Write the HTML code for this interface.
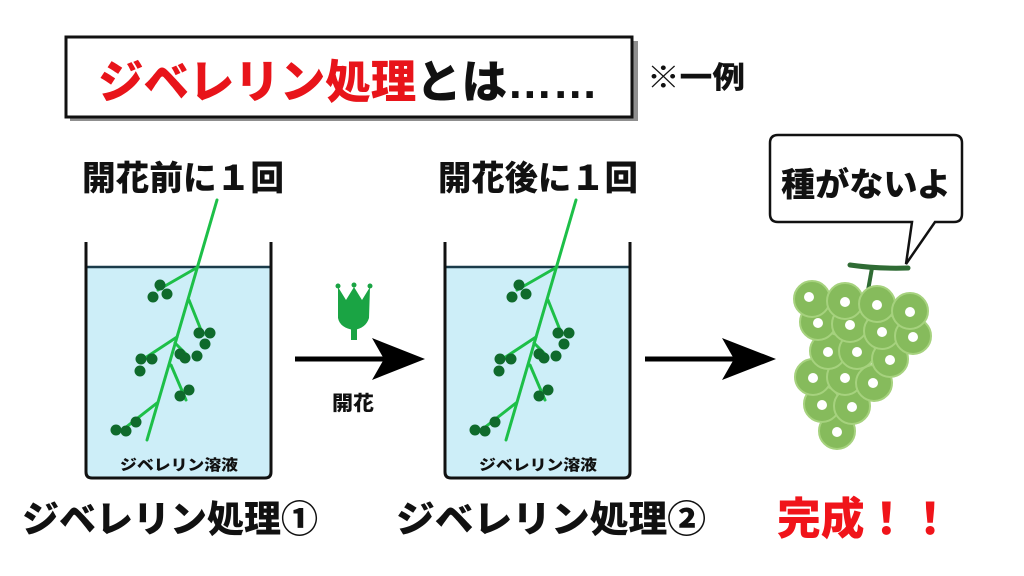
<!DOCTYPE html>
<html><head><meta charset="utf-8"><style>
html,body{margin:0;padding:0;background:#fff;width:1024px;height:576px;overflow:hidden}
text{font-family:"Liberation Sans","Noto Sans CJK JP",sans-serif;font-weight:900}
</style></head><body>
<svg width="1024" height="576" viewBox="0 0 1024 576" xmlns="http://www.w3.org/2000/svg">
<defs>
<g id="plant">
  <g stroke="#1dbf48" stroke-width="3" fill="none" stroke-linecap="round">
    <line x1="217" y1="200" x2="147" y2="440"/>
    <line x1="198" y1="267" x2="158" y2="290"/>
    <line x1="189" y1="300" x2="203" y2="335"/>
    <line x1="177" y1="337" x2="142" y2="360"/>
    <line x1="175" y1="343" x2="188" y2="356"/>
    <line x1="171" y1="365" x2="186" y2="400"/>
    <line x1="157" y1="403" x2="125" y2="428"/>
  </g>
  <g fill="#0f6a2c">
    <circle cx="160" cy="285" r="5.5"/><circle cx="153" cy="297" r="5.5"/><circle cx="167" cy="294" r="5.5"/>
    <circle cx="199" cy="333" r="5.5"/><circle cx="210" cy="333" r="5.5"/><circle cx="205" cy="344" r="5.5"/>
    <circle cx="141" cy="359" r="5.5"/><circle cx="152" cy="359" r="5.5"/><circle cx="140" cy="371" r="5.5"/>
    <circle cx="180" cy="354" r="5.5"/><circle cx="185" cy="358" r="5.5"/><circle cx="197" cy="356" r="5.5"/>
    <circle cx="180" cy="396" r="5.5"/><circle cx="189" cy="390" r="5.5"/>
    <circle cx="126" cy="431" r="5.5"/><circle cx="136" cy="422" r="5.5"/><circle cx="116" cy="430" r="5.5"/>
  </g>
</g>
<g id="beaker">
  <path d="M86 266 H271 V472 Q271 478 265 478 H92 Q86 478 86 472 Z" fill="#cdeef8"/>
  <line x1="86" y1="267" x2="271" y2="267" stroke="#1a3b4a" stroke-width="2.5"/>
  <path d="M86 242 V472 Q86 478 92 478 H265 Q271 478 271 472 V242" fill="none" stroke="#111" stroke-width="3"/>
  <text x="120" y="470" font-size="15" textLength="118" lengthAdjust="spacingAndGlyphs" fill="#111">ジベレリン溶液</text>
</g>
</defs>

<rect x="70" y="41" width="568" height="80" fill="#444" opacity="0.6"/>
<rect x="66" y="37" width="566" height="80" fill="#fff" stroke="#111" stroke-width="3"/>
<text x="98" y="98" font-size="46" textLength="500" lengthAdjust="spacingAndGlyphs"><tspan fill="#e8141a">ジベレリン処理</tspan><tspan fill="#111">とは……</tspan></text>
<text x="647" y="88" font-size="30" textLength="98" lengthAdjust="spacingAndGlyphs" fill="#111">※一例</text>

<text x="82" y="190" font-size="34" textLength="202" lengthAdjust="spacingAndGlyphs" fill="#111">開花前に１回</text>
<text x="438" y="190" font-size="34" textLength="200" lengthAdjust="spacingAndGlyphs" fill="#111">開花後に１回</text>

<use href="#beaker"/>
<use href="#plant"/>
<g transform="translate(359,0)"><use href="#beaker"/><use href="#plant"/></g>

<g fill="#1aa444">
  <path d="M338 287 L346 300 L354 287 L362 300 L370 287 L369 318 Q366 328 354 330 Q340 328 338 318 Z"/>
  <rect x="351" y="328" width="6" height="12"/>
  <circle cx="338" cy="286" r="2.5"/><circle cx="354" cy="285" r="2.5"/><circle cx="370" cy="286" r="2.5"/>
</g>

<line x1="295" y1="359" x2="385" y2="359" stroke="#000" stroke-width="5"/>
<path d="M372 338 L425 359 L372 380 L384 359 Z" fill="#000"/>
<text x="332" y="410" font-size="20" textLength="42" lengthAdjust="spacingAndGlyphs" fill="#111">開花</text>
<line x1="645" y1="359" x2="735" y2="359" stroke="#000" stroke-width="5"/>
<path d="M722 338 L776 359 L722 380 L734 359 Z" fill="#000"/>

<path d="M778 135 H954 Q962 135 962 143 V214 Q962 222 954 222 H935 L906 264 L912 222 H778 Q770 222 770 214 V143 Q770 135 778 135 Z" fill="#fff" stroke="#111" stroke-width="2.5"/>
<text x="781" y="196" font-size="33" textLength="170" lengthAdjust="spacingAndGlyphs" fill="#111">種がないよ</text>

<path d="M850 265 Q878 269 908 268" stroke="#2f6b34" stroke-width="5" fill="none" stroke-linecap="round"/>
<line x1="872" y1="268" x2="867" y2="296" stroke="#2f6b34" stroke-width="4"/>
<g fill="#86bb5c" stroke="#a6d27e" stroke-width="2">
  <circle cx="837" cy="431" r="18"/>
  <circle cx="822" cy="404" r="18"/><circle cx="852" cy="406" r="18"/>
  <circle cx="813" cy="377" r="18"/><circle cx="845" cy="377" r="18"/><circle cx="874" cy="383" r="18"/>
  <circle cx="828" cy="351" r="18"/><circle cx="857" cy="351" r="18"/><circle cx="890" cy="359" r="18"/>
  <circle cx="818" cy="322" r="18"/><circle cx="850" cy="324" r="18"/><circle cx="882" cy="331" r="18"/><circle cx="913" cy="336" r="18"/>
  <circle cx="812" cy="299" r="18"/><circle cx="845" cy="301" r="18"/><circle cx="877" cy="304" r="18"/><circle cx="910" cy="311" r="18"/>
</g>
<g fill="#fff">
  <circle cx="809" cy="297" r="5"/><circle cx="845" cy="302" r="5"/><circle cx="877" cy="305" r="5"/><circle cx="910" cy="312" r="5"/>
  <circle cx="818" cy="323" r="5"/><circle cx="850" cy="325" r="5"/><circle cx="882" cy="332" r="5"/><circle cx="913" cy="337" r="5"/>
  <circle cx="828" cy="352" r="5"/><circle cx="857" cy="352" r="5"/><circle cx="890" cy="360" r="5"/>
  <circle cx="813" cy="378" r="5"/><circle cx="845" cy="378" r="5"/><circle cx="873" cy="383" r="5"/>
  <circle cx="822" cy="405" r="5"/><circle cx="852" cy="407" r="5"/>
  <circle cx="837" cy="432" r="5"/>
</g>

<text x="22" y="532" font-size="37" textLength="296" lengthAdjust="spacingAndGlyphs" fill="#111">ジベレリン処理①</text>
<text x="396" y="532" font-size="37" textLength="310" lengthAdjust="spacingAndGlyphs" fill="#111">ジベレリン処理②</text>
<text x="777" y="534" font-size="44" textLength="175" lengthAdjust="spacingAndGlyphs" fill="#f0141a">完成！！</text>
</svg>
</body></html>
